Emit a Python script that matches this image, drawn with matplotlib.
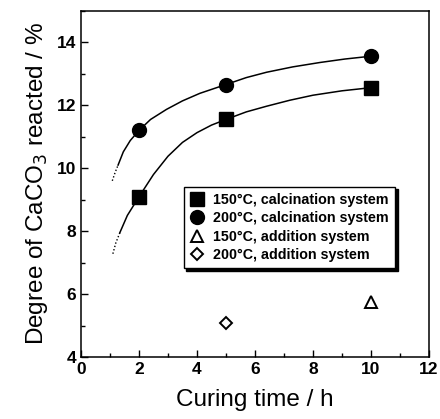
import matplotlib
matplotlib.use("Agg")
from matplotlib import pyplot as plt
from matplotlib.ticker import MultipleLocator

plt.rcParams['font.family'] = ['Liberation Sans', 'DejaVu Sans']

# measured points
t_calc = [2, 5, 10]
calc_150 = [9.09, 11.55, 12.56]
calc_200 = [11.2, 12.66, 13.56]
t_add150 = [10]
add_150 = [5.76]
t_add200 = [5]
add_200 = [5.07]

# fitted trend lines
fit150_dot_x = [1.1, 1.2, 1.34]
fit150_dot_y = [7.28, 7.62, 7.95]
fit150_x = [1.34, 1.6, 2.0, 2.5, 3.0, 3.5, 4.0, 4.5, 5.0, 5.7, 6.4, 7.2, 8.0, 9.0, 10.0]
fit150_y = [7.95, 8.5, 9.09, 9.8, 10.38, 10.82, 11.13, 11.37, 11.55, 11.79, 11.97, 12.16, 12.32, 12.46, 12.56]
fit200_dot_x = [1.08, 1.18, 1.28]
fit200_dot_y = [9.6, 9.87, 10.1]
fit200_x = [1.28, 1.46, 1.7, 2.0, 2.4, 2.95, 3.5, 4.1, 5.0, 5.7, 6.4, 7.3, 8.24, 9.1, 10.0]
fit200_y = [10.1, 10.52, 10.88, 11.2, 11.55, 11.87, 12.14, 12.38, 12.66, 12.88, 13.05, 13.22, 13.36, 13.47, 13.56]

fig = plt.figure(figsize=(4.4, 4.19), dpi=100)
ax = fig.add_axes([0.184, 0.148, 0.791, 0.826])

ax.plot(fit150_dot_x, fit150_dot_y, color='black', lw=1, ls=(0, (1, 1.5)))
ax.plot(fit200_dot_x, fit200_dot_y, color='black', lw=1, ls=(0, (1, 1.5)))
ax.plot(fit150_x, fit150_y, color='black', lw=1.1)
ax.plot(fit200_x, fit200_y, color='black', lw=1.1)

ax.plot(t_calc, calc_150, 's', color='black', ms=9.5, label='150°C, calcination system')
ax.plot(t_calc, calc_200, 'o', color='black', ms=10, label='200°C, calcination system')
ax.plot(t_add150, add_150, '^', mfc='white', mec='black', mew=1.4, ms=8.5,
        label='150°C, addition system')
ax.plot(t_add200, add_200, 'D', mfc='white', mec='black', mew=1.4, ms=6.5,
        label='200°C, addition system')

ax.set_xlim(0, 12)
ax.set_ylim(4, 15)
ax.xaxis.set_major_locator(MultipleLocator(2))
ax.xaxis.set_minor_locator(MultipleLocator(1))
ax.yaxis.set_major_locator(MultipleLocator(2))
ax.yaxis.set_minor_locator(MultipleLocator(1))
ax.tick_params(which='both', direction='in', labelsize=12.5)
ax.tick_params(which='major', length=5, width=1)
ax.tick_params(which='minor', length=3, width=1)
for lab in ax.get_xticklabels() + ax.get_yticklabels():
    lab.set_fontweight('bold')
for sp in ax.spines.values():
    sp.set_linewidth(1.1)

ax.set_xlabel('Curing time / h', fontsize=17.5, labelpad=9)
ax.set_ylabel('Degree of CaCO$_3$ reacted / %', fontsize=17.5, labelpad=5)

leg = ax.legend(loc='upper left', bbox_to_anchor=(0.295, 0.492), frameon=True,
                fancybox=False, shadow={'color': 'black', 'alpha': 1},
                prop={'size': 10.3, 'weight': 'bold'},
                handletextpad=0.6, borderpad=0.45, labelspacing=0.3,
                handlelength=1.0, borderaxespad=0)
leg.get_frame().set_edgecolor('black')
leg.get_frame().set_linewidth(1)

fig.savefig('out.png', dpi=100)
